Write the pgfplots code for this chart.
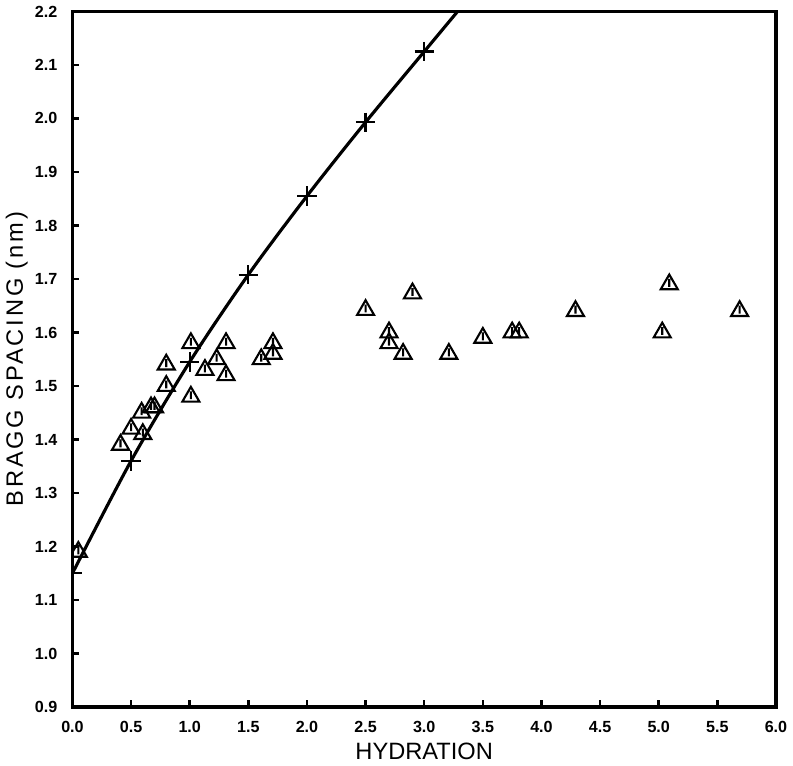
\documentclass[border=0pt]{standalone}
\usepackage{fontspec}
\setmainfont{Liberation Sans}
\newfontfamily\ylabfont[LetterSpace=12]{Liberation Sans}
\usepackage{pgfplots}
\pgfplotsset{compat=1.18}

% triangle with a short stroke inside, as in the scanned figure
\pgfdeclareplotmark{wtri}{%
  \pgfpathmoveto{\pgfqpoint{0pt}{\pgfplotmarksize}}%
  \pgfpathlineto{\pgfqpoint{-0.866\pgfplotmarksize}{-0.5\pgfplotmarksize}}%
  \pgfpathlineto{\pgfqpoint{0.866\pgfplotmarksize}{-0.5\pgfplotmarksize}}%
  \pgfpathclose
  \pgfpathmoveto{\pgfqpoint{0pt}{0.55\pgfplotmarksize}}%
  \pgfpathlineto{\pgfqpoint{0pt}{-0.25\pgfplotmarksize}}%
  \pgfusepathqstroke
}

\begin{document}
\begin{tikzpicture}
\begin{axis}[
  scale only axis,
  width=14.12cm, height=13.96cm,
  xmin=0, xmax=6, ymin=0.9, ymax=2.2,
  xtick={0,0.5,1,1.5,2,2.5,3,3.5,4,4.5,5,5.5,6},
  ytick={0.9,1.0,1.1,1.2,1.3,1.4,1.5,1.6,1.7,1.8,1.9,2.0,2.1,2.2},
  tick align=inside,
  xtick pos=bottom, ytick pos=left,
  major tick length=0.14cm,
  axis line style={line width=2pt},
  tick style={line width=1.4pt, black},
  ticklabel style={font=\bfseries\fontsize{9.2}{11}\selectfont},
  xticklabel shift=0.16cm,
  yticklabel shift=0.18cm,
  /pgf/number format/fixed,
  /pgf/number format/fixed zerofill,
  /pgf/number format/precision=1,
  /pgf/number format/assume math mode=true,
  xlabel={HYDRATION},
  ylabel={BRAGG SPACING (nm)},
  xlabel style={font=\fontsize{13.5}{15}\selectfont, yshift=0.04cm},
  ylabel style={font=\ylabfont\fontsize{13.5}{15}\selectfont, yshift=-0.1cm},
  clip marker paths=true,
]
% fitted curve
\addplot[black, line width=1.8pt, smooth, no markers] coordinates {
  (0,1.15) (0.5,1.36) (1.0,1.545) (1.5,1.708) (2.0,1.855)
  (2.5,1.993) (3.0,2.125) (3.3,2.204)
};
\addplot[black, only marks, mark=+, mark size=5.5pt,
  mark options={line width=1.3pt}] coordinates {
  (0,1.15) (0.5,1.36) (1.0,1.545) (1.5,1.708) (2.0,1.855)
  (2.5,1.993) (3.0,2.125)
};
% measured spacings
\addplot[black, only marks, mark=wtri, mark size=5.6pt,
  mark options={line width=1.2pt, fill=white}] coordinates {
  (0.05,1.19)
  (0.41,1.39) (0.50,1.42) (0.60,1.41) (0.59,1.45) (0.67,1.46) (0.70,1.46)
  (0.80,1.50) (0.80,1.54) (1.01,1.58) (1.01,1.48) (1.13,1.53) (1.23,1.55)
  (1.31,1.58) (1.31,1.52) (1.61,1.55) (1.71,1.58) (1.71,1.56)
  (2.50,1.642) (2.70,1.60) (2.70,1.58) (2.82,1.56) (2.90,1.673)
  (3.21,1.56) (3.50,1.59) (3.75,1.60) (3.81,1.60)
  (4.29,1.64) (5.03,1.60) (5.09,1.69) (5.69,1.64)
};
\end{axis}
\end{tikzpicture}
\end{document}
